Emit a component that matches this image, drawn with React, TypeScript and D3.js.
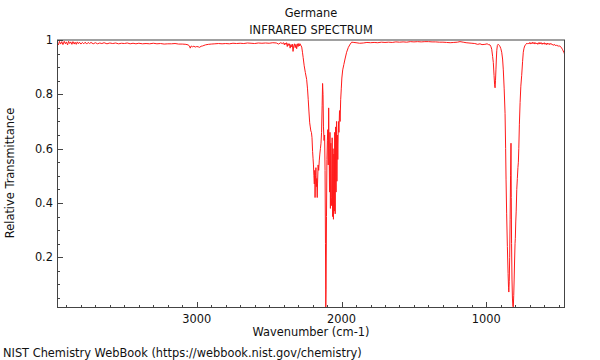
import React from "react";
import * as d3 from "d3";

const TITLE = "Germane";
const SUBTITLE = "INFRARED SPECTRUM";
const X_LABEL = "Wavenumber (cm-1)";
const Y_LABEL = "Relative Transmittance";
const FOOTER = "NIST Chemistry WebBook (https://webbook.nist.gov/chemistry)";

const X_DOMAIN = [3965, 457];
const Y_DOMAIN = [0.0133, 1];
const X_MAJOR = [3000, 2000, 1000];
const Y_MAJOR = [0.2, 0.4, 0.6, 0.8, 1];

const wavenumber = [
  3965, 3955, 3948, 3940, 3932, 3924, 3915, 3907, 3900, 3892, 3885, 3877, 3870, 3862, 3855, 3846, 3840, 3832, 3825, 3817,
  3810, 3800, 3790, 3780, 3770, 3760, 3750, 3740, 3730, 3715, 3700, 3685, 3670, 3655, 3640, 3620, 3600, 3580, 3560, 3540,
  3520, 3500, 3480, 3460, 3440, 3420, 3400, 3375, 3350, 3325, 3300, 3275, 3250, 3225, 3200, 3175, 3150, 3125, 3100, 3075,
  3060, 3050, 3045, 3038, 3030, 3020, 3010, 3000, 2990, 2980, 2970, 2960, 2950, 2940, 2920, 2900, 2875, 2850, 2825, 2800,
  2775, 2750, 2725, 2700, 2675, 2650, 2625, 2600, 2575, 2550, 2525, 2500, 2475, 2450, 2435, 2420, 2410, 2400, 2395, 2390,
  2385, 2380, 2375, 2370, 2365, 2360, 2355, 2350, 2345, 2340, 2335, 2330, 2325, 2320, 2315, 2310, 2305, 2300, 2295, 2290,
  2286, 2283, 2279, 2275, 2270, 2265, 2258, 2250, 2241, 2235, 2230, 2225, 2220, 2216, 2212, 2208, 2204, 2200, 2197, 2194,
  2191, 2188, 2185, 2183, 2180, 2177, 2174, 2171, 2168, 2166, 2162, 2158, 2154, 2150, 2146, 2142, 2138, 2134, 2131, 2128,
  2125, 2121, 2117, 2114, 2111, 2109, 2107, 2104, 2101, 2098, 2095, 2092, 2089, 2086, 2083, 2080, 2077, 2074, 2071, 2068,
  2065, 2062, 2059, 2056, 2053, 2050, 2047, 2044, 2041, 2038, 2035, 2032, 2029, 2026, 2022, 2018, 2014, 2010, 2006, 2002,
  1998, 1992, 1984, 1976, 1965, 1953, 1940, 1930, 1915, 1900, 1875, 1850, 1825, 1800, 1775, 1750, 1725, 1700, 1675, 1650,
  1625, 1600, 1575, 1550, 1525, 1500, 1475, 1450, 1425, 1400, 1375, 1350, 1325, 1300, 1275, 1250, 1225, 1200, 1182, 1160,
  1140, 1120, 1100, 1080, 1060, 1044, 1030, 1010, 995, 985, 975, 968, 963, 957, 952, 947, 943, 940, 937, 934,
  931, 928, 924, 920, 916, 910, 905, 900, 894, 888, 883, 877, 871, 867, 864, 860, 855, 850, 847, 845,
  842, 839, 836, 833, 830, 828, 826, 823, 820, 817, 814, 811, 808, 805, 802, 800, 797, 794, 790, 786,
  782, 779, 776, 772, 767, 762, 756, 750, 745, 740, 735, 728, 720, 715, 710, 705, 700, 695, 690, 685,
  680, 675, 670, 665, 660, 655, 650, 645, 640, 635, 630, 625, 620, 615, 610, 605, 600, 595, 590, 585,
  580, 575, 570, 565, 560, 555, 550, 545, 540, 535, 530, 525, 520, 515, 510, 505, 500, 495, 490, 485,
  480, 475, 470, 465, 460, 457
];

const transmittance = [
  0.990, 0.982, 0.995, 0.985, 0.994, 0.983, 0.995, 0.986, 0.993, 0.982, 0.995, 0.987, 0.993, 0.984, 0.994, 0.985, 0.992, 0.984, 0.993, 0.986,
  0.992, 0.985, 0.991, 0.986, 0.992, 0.985, 0.991, 0.987, 0.991, 0.986, 0.990, 0.986, 0.989, 0.987, 0.990, 0.986, 0.989, 0.987, 0.989, 0.986,
  0.988, 0.987, 0.989, 0.986, 0.988, 0.986, 0.988, 0.986, 0.987, 0.986, 0.988, 0.986, 0.987, 0.985, 0.986, 0.986, 0.987, 0.985, 0.985, 0.984,
  0.982, 0.978, 0.970, 0.978, 0.975, 0.977, 0.974, 0.976, 0.975, 0.973, 0.977, 0.978, 0.980, 0.982, 0.984, 0.985, 0.986, 0.987, 0.986, 0.987,
  0.986, 0.988, 0.987, 0.988, 0.987, 0.989, 0.988, 0.987, 0.989, 0.988, 0.989, 0.988, 0.990, 0.989, 0.985, 0.990, 0.987, 0.990, 0.982, 0.989,
  0.984, 0.990, 0.976, 0.987, 0.980, 0.986, 0.970, 0.983, 0.975, 0.985, 0.958, 0.978, 0.986, 0.972, 0.984, 0.968, 0.986, 0.976, 0.987, 0.978,
  0.986, 0.982, 0.978, 0.974, 0.955, 0.935, 0.905, 0.880, 0.855, 0.820, 0.780, 0.735, 0.695, 0.680, 0.665, 0.660, 0.640, 0.590, 0.565, 0.540,
  0.500, 0.470, 0.520, 0.420, 0.500, 0.530, 0.460, 0.490, 0.420, 0.470, 0.540, 0.520, 0.555, 0.580, 0.600, 0.620, 0.660, 0.760, 0.840, 0.800,
  0.680, 0.630, 0.650, 0.520, 0.250, 0.017, 0.080, 0.350, 0.560, 0.630, 0.670, 0.540, 0.750, 0.600, 0.440, 0.660, 0.380, 0.620, 0.420, 0.390,
  0.640, 0.350, 0.600, 0.340, 0.580, 0.370, 0.660, 0.360, 0.680, 0.440, 0.700, 0.480, 0.650, 0.560, 0.700, 0.660, 0.740, 0.700, 0.780, 0.820,
  0.860, 0.890, 0.910, 0.930, 0.955, 0.973, 0.985, 0.992, 0.991, 0.990, 0.988, 0.989, 0.991, 0.990, 0.991, 0.990, 0.992, 0.991, 0.992, 0.991,
  0.993, 0.992, 0.993, 0.992, 0.994, 0.993, 0.994, 0.993, 0.994, 0.994, 0.993, 0.993, 0.992, 0.992, 0.991, 0.990, 0.991, 0.992, 0.994, 0.992,
  0.990, 0.989, 0.988, 0.987, 0.984, 0.986, 0.983, 0.984, 0.986, 0.983, 0.982, 0.975, 0.966, 0.940, 0.917, 0.870, 0.835, 0.824, 0.850, 0.890,
  0.930, 0.962, 0.980, 0.984, 0.983, 0.980, 0.975, 0.968, 0.955, 0.930, 0.890, 0.820, 0.730, 0.600, 0.485, 0.360, 0.240, 0.140, 0.090, 0.072,
  0.110, 0.200, 0.340, 0.500, 0.620, 0.420, 0.250, 0.120, 0.050, 0.020, 0.017, 0.060, 0.120, 0.190, 0.250, 0.270, 0.330, 0.370, 0.450, 0.490,
  0.530, 0.550, 0.600, 0.690, 0.770, 0.830, 0.870, 0.920, 0.955, 0.970, 0.978, 0.984, 0.988, 0.985, 0.989, 0.986, 0.991, 0.985, 0.990, 0.986,
  0.992, 0.987, 0.991, 0.985, 0.990, 0.986, 0.989, 0.984, 0.990, 0.985, 0.991, 0.986, 0.990, 0.984, 0.989, 0.985, 0.990, 0.984, 0.988, 0.983,
  0.989, 0.984, 0.987, 0.983, 0.988, 0.984, 0.986, 0.982, 0.984, 0.980, 0.984, 0.981, 0.979, 0.982, 0.978, 0.980, 0.976, 0.978, 0.977, 0.974,
  0.970, 0.966, 0.960, 0.955, 0.948, 0.942
];

const W = 600;
const H = 360;
const M = { left: 57, right: 565, top: 40, bottom: 308 };
const FONT = "DejaVu Sans, sans-serif";
const FS = 11.4;

export default function App() {
  const x = d3.scaleLinear().domain(X_DOMAIN).range([M.left, M.right]);
  const y = d3.scaleLinear().domain(Y_DOMAIN).range([M.bottom, M.top]);

  const pts: [number, number][] = wavenumber.map((w, i) => [w, transmittance[i]]);
  const line = d3
    .line<[number, number]>()
    .x((d) => x(d[0]))
    .y((d) => y(d[1]));

  const xMinor = d3.range(500, 4000, 100).filter((v) => v >= X_DOMAIN[1] && v <= X_DOMAIN[0] && v % 1000 !== 0);
  const yMinor = d3.range(1, 20).map((k) => k * 0.05).filter((v) => Math.abs((v * 5) - Math.round(v * 5)) > 1e-6);

  const axisColor = "#444";

  return (
    <svg width={W} height={H} style={{ position: "absolute", left: 0, top: 0, background: "#fff" }} fontFamily={FONT}>
      <defs>
        <clipPath id="plotclip">
          <rect x={M.left} y={M.top} width={M.right - M.left} height={M.bottom - M.top} />
        </clipPath>
      </defs>
      <rect x={0} y={0} width={W} height={H} fill="#fff" />

      <text x={(M.left + M.right) / 2} y={16.5} textAnchor="middle" fontSize={FS} fill="#111">{TITLE}</text>
      <text x={(M.left + M.right) / 2} y={34} textAnchor="middle" fontSize={FS} fill="#111">{SUBTITLE}</text>

      <path d={line(pts) || ""} fill="none" stroke="#ff1a1a" strokeWidth={1} clipPath="url(#plotclip)" />

      {/* frame */}
      <line x1={M.left} x2={M.right} y1={M.top} y2={M.top} stroke="#a0a0a0" strokeWidth={2} />
      <line x1={M.left + 0.5} x2={M.left + 0.5} y1={M.top} y2={M.bottom} stroke={axisColor} strokeWidth={1} />
      <line x1={M.right - 0.5} x2={M.right - 0.5} y1={M.top} y2={M.bottom} stroke={axisColor} strokeWidth={1} />
      <line x1={M.left} x2={M.right} y1={M.bottom - 0.5} y2={M.bottom - 0.5} stroke={axisColor} strokeWidth={1} />

      {/* x ticks */}
      {X_MAJOR.map((v) => (
        <g key={"xm" + v}>
          <line x1={Math.round(x(v)) + 0.5} x2={Math.round(x(v)) + 0.5} y1={M.bottom} y2={M.bottom - 6} stroke={axisColor} />
          <text x={x(v)} y={322.5} textAnchor="middle" fontSize={FS} fill="#111">{v}</text>
        </g>
      ))}
      {xMinor.map((v) => (
        <line key={"xn" + v} x1={Math.round(x(v)) + 0.5} x2={Math.round(x(v)) + 0.5} y1={M.bottom} y2={M.bottom - 3} stroke={axisColor} />
      ))}

      {/* y ticks */}
      {Y_MAJOR.map((v) => (
        <g key={"ym" + v}>
          <line x1={M.left} x2={M.left + 6} y1={Math.round(y(v)) + 0.5} y2={Math.round(y(v)) + 0.5} stroke={axisColor} />
          <text x={M.left - 4} y={y(v)} dy="0.35em" textAnchor="end" fontSize={FS} fill="#111">{d3.format("")(v)}</text>
        </g>
      ))}
      {yMinor.map((v) => (
        <line key={"yn" + v} x1={M.left} x2={M.left + 3} y1={Math.round(y(v)) + 0.5} y2={Math.round(y(v)) + 0.5} stroke={axisColor} />
      ))}

      <text x={(M.left + M.right) / 2} y={336} textAnchor="middle" fontSize={FS} fill="#111">{X_LABEL}</text>
      <text transform={`translate(14, 173) rotate(-90)`} textAnchor="middle" fontSize={FS} fill="#111">{Y_LABEL}</text>
      <text x={3} y={356.5} fontSize={FS} fill="#111">{FOOTER}</text>
    </svg>
  );
}
